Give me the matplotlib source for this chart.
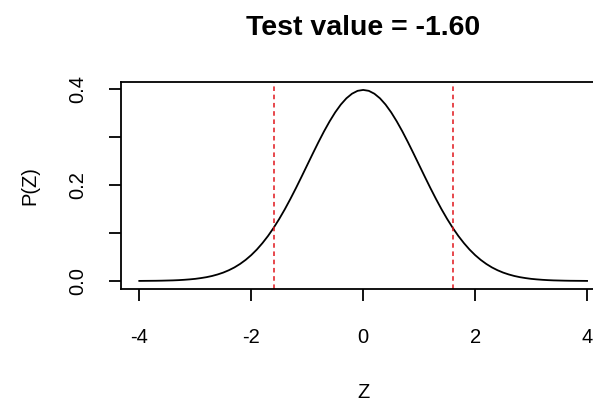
import matplotlib
matplotlib.use("Agg")
import matplotlib.pyplot as plt

plt.rcParams['font.family'] = ['Liberation Sans', 'DejaVu Sans']

# Standard normal density P(Z) sampled at Z = -4.0 ... 4.0 in steps of 0.1
z_right = [0.0, 0.1, 0.2, 0.3, 0.4, 0.5, 0.6, 0.7, 0.8, 0.9,
           1.0, 1.1, 1.2, 1.3, 1.4, 1.5, 1.6, 1.7, 1.8, 1.9,
           2.0, 2.1, 2.2, 2.3, 2.4, 2.5, 2.6, 2.7, 2.8, 2.9,
           3.0, 3.1, 3.2, 3.3, 3.4, 3.5, 3.6, 3.7, 3.8, 3.9, 4.0]
p_right = [0.3989, 0.3970, 0.3910, 0.3814, 0.3683, 0.3521, 0.3332, 0.3123, 0.2897, 0.2661,
           0.2420, 0.2179, 0.1942, 0.1714, 0.1497, 0.1295, 0.1109, 0.0940, 0.0790, 0.0656,
           0.0540, 0.0440, 0.0355, 0.0283, 0.0224, 0.0175, 0.0136, 0.0104, 0.0079, 0.0060,
           0.0044, 0.0033, 0.0024, 0.0017, 0.0012, 0.0009, 0.0006, 0.0004, 0.0003, 0.0002, 0.0001]
z_vals = [-z for z in z_right[:0:-1]] + z_right
p_vals = p_right[:0:-1] + p_right

test_value = -1.60
critical = [-1.60, 1.60]
x_ticks = [-4, -2, 0, 2, 4]
x_tick_labels = ["-4", "-2", "0", "2", "4"]
y_ticks = [0.0, 0.1, 0.2, 0.3, 0.4]
y_tick_labels = ["0.0", "", "0.2", "", "0.4"]

fig = plt.figure(figsize=(5.93, 4.01), dpi=100)
ax = fig.add_axes([0.2047, 0.2803, 0.8155, 0.5145])

ax.plot(z_vals, p_vals, color='black', lw=1.3)
for c in critical:
    ax.axvline(c, color='#e0151b', lw=1.1, linestyle=(0, (3.0, 2.4)))

ax.set_xlim(-4.32, 4.32)
ax.set_ylim(-0.01596, 0.41486)

for s in ax.spines.values():
    s.set_linewidth(1.3)

ax.set_xticks(x_ticks)
ax.set_xticklabels(x_tick_labels)
ax.set_yticks(y_ticks)
ax.set_yticklabels(y_tick_labels)
ax.tick_params(axis='both', length=8.5, width=1.3, labelsize=14.5, color='black')
ax.tick_params(axis='x', pad=20)
ax.tick_params(axis='y', pad=16, labelrotation=90)
for lbl in ax.get_yticklabels():
    lbl.set_va('center')

ax.set_xlabel("Z", fontsize=14.5)
ax.xaxis.set_label_coords(0.5 * (363.3 - 121.4) / 241.8, -0.505)
ax.xaxis.label.set_va('center')
ax.set_ylabel("P(Z)", fontsize=14.5)
ax.yaxis.set_label_coords(-0.19, 0.5)
ax.yaxis.label.set_va('center')

ax.set_title(f"Test value = {test_value:.2f}", fontsize=20.5, fontweight='bold', pad=34)

fig.savefig("out.png", dpi=100)
